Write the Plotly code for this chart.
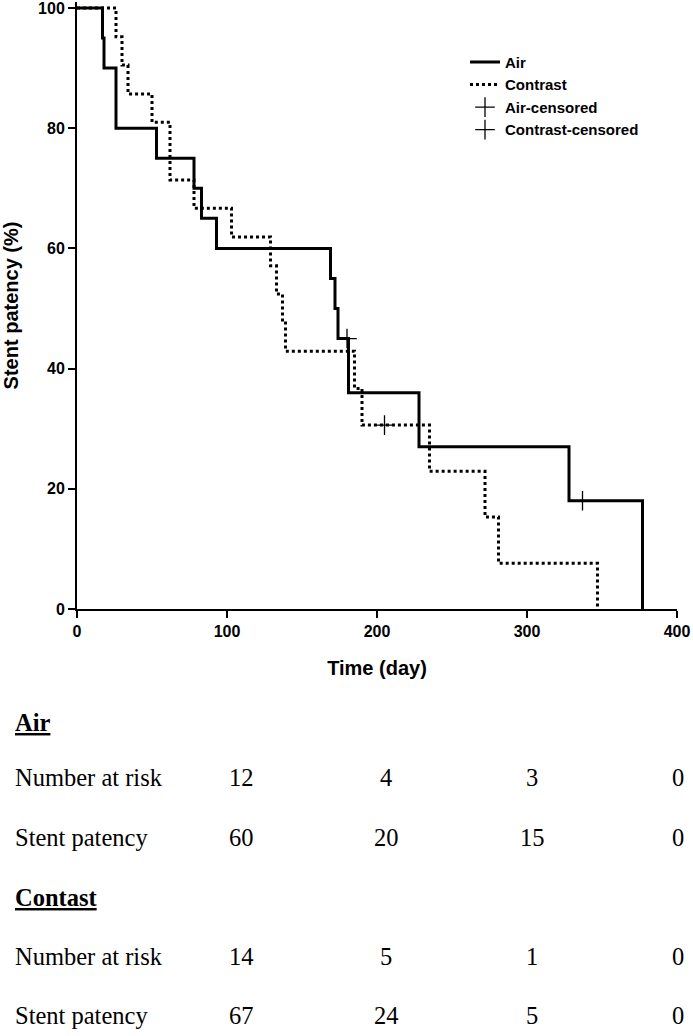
import plotly.graph_objects as go

# ---- data ----
air_days = [0, 17, 18, 26, 53, 78, 83, 93, 169, 172, 174, 181, 228, 328, 377]
air_surv = [100, 95, 90, 80, 75, 70, 65, 60, 55, 50, 45, 36, 27, 18, 0]
air_cens_days = [180, 337]
air_cens_surv = [45, 18]

con_days = [0, 26, 30, 34, 50, 62, 78, 103, 129, 133, 137, 139, 185, 190, 235, 272, 281, 347]
con_surv = [100, 95.2, 90.5, 85.7, 81.0, 71.4, 66.7, 61.9, 57.1, 52.4, 47.6, 42.9, 36.7, 30.6, 22.9, 15.3, 7.6, 0]
con_cens_days = [205]
con_cens_surv = [30.6]

x_ticks = [0, 100, 200, 300, 400]
y_ticks = [0, 20, 40, 60, 80, 100]

row_labels = ["Number at risk", "Stent patency"]
air_at_risk = [12, 4, 3, 0]
air_patency = [60, 20, 15, 0]
con_at_risk = [14, 5, 1, 0]
con_patency = [67, 24, 5, 0]
group_titles = ["Air", "Contast"]

# ---- layout geometry (pixels) ----
W, H = 693, 1036
L, R, T, B = 77, 16, 0, 427
PW = W - L - R
PH = H - T - B


def px(xp):
    return (xp - L) / PW


def py(yp):
    return (T + PH - yp) / PH


fig = go.Figure()
fig.add_trace(go.Scatter(x=air_days, y=air_surv, mode="lines", name="Air",
                         line=dict(color="black", width=3, shape="hv")))
fig.add_trace(go.Scatter(x=con_days, y=con_surv, mode="lines", name="Contrast",
                         line=dict(color="black", width=3, shape="hv", dash="3px,3px")))
fig.add_trace(go.Scatter(x=air_cens_days, y=air_cens_surv, mode="markers", name="Air-censored",
                         marker=dict(symbol="cross-thin", size=14, color="black",
                                     line=dict(width=1.3, color="black"))))
fig.add_trace(go.Scatter(x=con_cens_days, y=con_cens_surv, mode="markers", name="Contrast-censored",
                         marker=dict(symbol="cross-thin", size=14, color="black",
                                     line=dict(width=1.3, color="black"))))

annotations = []
col_x = [241, 386, 532, 678]
blocks = [
    (group_titles[0], 723, [(row_labels[0], air_at_risk, 778), (row_labels[1], air_patency, 838)]),
    (group_titles[1], 898, [(row_labels[0], con_at_risk, 958), (row_labels[1], con_patency, 1017)]),
]
serif = "Liberation Serif, Times New Roman, serif"
FS = 24.5
for title, ty, rows in blocks:
    annotations.append(dict(text="<u><b>%s</b></u>" % title, x=px(13), y=py(ty),
                            xref="paper", yref="paper", xanchor="left", yanchor="middle",
                            showarrow=False, font=dict(family=serif, size=FS, color="black")))
    for lab, vals, ry in rows:
        annotations.append(dict(text=lab, x=px(13), y=py(ry), xref="paper", yref="paper",
                                xanchor="left", yanchor="middle", showarrow=False,
                                font=dict(family=serif, size=FS, color="black")))
        for cx, v in zip(col_x, vals):
            annotations.append(dict(text=str(v), x=px(cx), y=py(ry), xref="paper", yref="paper",
                                    xanchor="center", yanchor="middle", showarrow=False,
                                    font=dict(family=serif, size=FS, color="black")))

sans = "Liberation Sans, Arial, sans-serif"
fig.update_layout(
    width=W, height=H,
    margin=dict(l=L, r=R, t=T, b=B, pad=0),
    paper_bgcolor="white", plot_bgcolor="white",
    font=dict(family=sans, color="black"),
    showlegend=True,
    legend=dict(x=px(465), y=py(44), xanchor="left", yanchor="top",
                font=dict(family=sans, size=15, color="black", weight="bold"),
                bgcolor="rgba(0,0,0,0)", itemwidth=30, tracegroupgap=0),
    annotations=annotations,
    xaxis=dict(range=[0, 400], tickvals=x_ticks, ticktext=[str(v) for v in x_ticks],
               showgrid=False, zeroline=False, showline=True, linecolor="black", linewidth=2,
               ticks="outside", ticklen=7, tickwidth=2, tickcolor="black",
               ticklabeloverflow="allow",
               tickfont=dict(family=sans, size=16, color="black", weight="bold"),
               title=dict(text="<b>Time (day)</b>", font=dict(family=sans, size=20, color="black"),
                          standoff=22)),
    yaxis=dict(range=[0, 101], tickvals=y_ticks, ticktext=[str(v) for v in y_ticks],
               showgrid=False, zeroline=False, showline=True, linecolor="black", linewidth=2,
               ticks="outside", ticklen=7, tickwidth=2, tickcolor="black",
               ticklabeloverflow="allow",
               tickfont=dict(family=sans, size=16, color="black", weight="bold"),
               title=dict(text="<b>Stent patency (%)</b>", font=dict(family=sans, size=20, color="black"),
                          standoff=15)),
)

fig.write_html("out.html", config={"displayModeBar": False},
               post_script="document.body.style.margin='0';document.body.style.overflow='hidden';")
